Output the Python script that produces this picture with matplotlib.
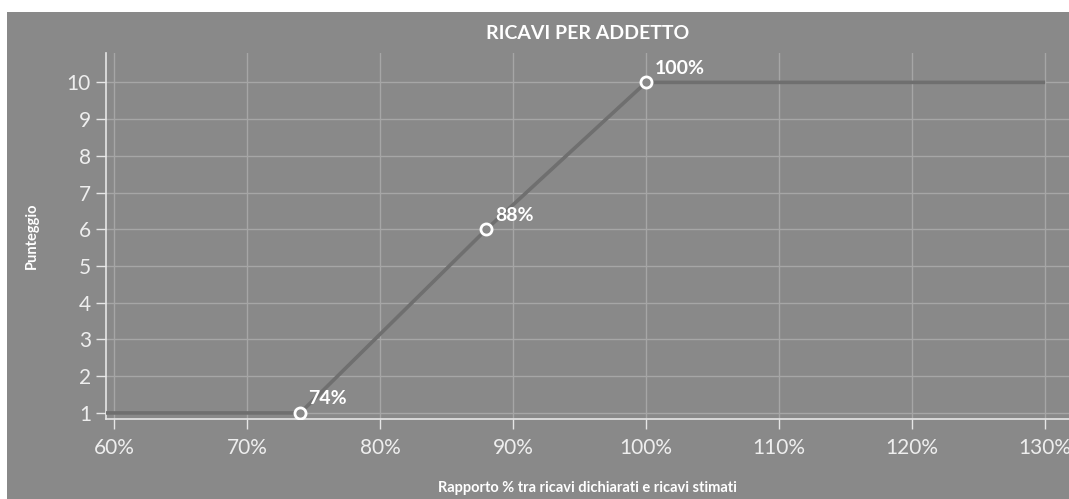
import matplotlib
matplotlib.use("Agg")
import matplotlib.pyplot as plt
from matplotlib.ticker import FuncFormatter

plt.rcParams['font.family'] = ['Lato', 'DejaVu Sans']

# curve: ratio (%) -> score
line_x = [59.4, 74, 88, 100, 130]
line_y = [1, 1, 6, 10, 10]
# highlighted points
pt_x = [74, 88, 100]
pt_y = [1, 6, 10]
pt_labels = ["74%", "88%", "100%"]

x_ticks = [60, 70, 80, 90, 100, 110, 120, 130]
y_ticks = list(range(1, 11))

bg = "#898989"
fig = plt.figure(figsize=(10.69, 4.99), dpi=100, facecolor="white")
# gray panel (white strip top and left)
fig.patches.append(plt.Rectangle((7/1069, 0), 1 - 7/1069, 1 - 12/499,
                                 transform=fig.transFigure, facecolor=bg,
                                 edgecolor="none", zorder=-10))
ax = fig.add_axes([105.5/1069, 80/499, 1 - 105.5/1069, (419-53)/499])
ax.set_facecolor(bg)

ax.plot(line_x, line_y, color="#6f6f6f", lw=2.6, zorder=3, solid_capstyle="butt")
ax.plot(pt_x, pt_y, 'o', ms=8, mfc=bg, mec="white", mew=2, zorder=4)
for x, y, t in zip(pt_x, pt_y, pt_labels):
    ax.annotate(t, (x, y), xytext=(6, 4), textcoords="offset points",
                color="white", fontsize=14, fontweight="bold", ha="left", va="bottom")

ax.set_xlim(59.36, 131.8)
ax.set_ylim(0.835, 10.8)
ax.set_xticks(x_ticks)
ax.set_yticks(y_ticks)
ax.xaxis.set_major_formatter(FuncFormatter(lambda v, p: f"{v:.0f}%"))
ax.grid(True, color="#a6a6a6", lw=1)
ax.set_axisbelow(True)
for s in ["top", "right"]:
    ax.spines[s].set_visible(False)
for s in ["left", "bottom"]:
    ax.spines[s].set_color("#e6e6e6")
    ax.spines[s].set_linewidth(1.2)
ax.tick_params(colors="#e6e6e6", labelcolor="#eeeeee", labelsize=15, length=7, width=1)
ax.tick_params(axis="x", pad=7)

ax.set_title("RICAVI PER ADDETTO", color="white", fontsize=14, fontweight="bold", pad=10)
ax.set_xlabel("Rapporto % tra ricavi dichiarati e ricavi stimati", color="white",
              fontsize=10.5, fontweight="bold", labelpad=16)
ax.set_ylabel("Punteggio", color="white", fontsize=10.5, fontweight="bold", labelpad=20)

fig.savefig("out.png", dpi=100, facecolor="white")
